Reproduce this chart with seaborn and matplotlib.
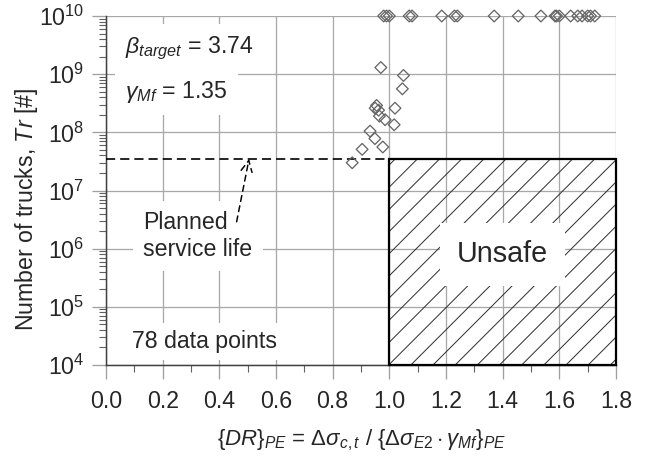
import numpy as np
import matplotlib
matplotlib.use('Agg')
import matplotlib.pyplot as plt
import matplotlib.ticker as mticker
from matplotlib.patches import Rectangle
import seaborn as sns

# failures below the run-out level
dr_failed = [0.970, 1.050, 1.046, 0.955, 0.950, 0.962, 1.020, 0.965, 0.985,
             1.017, 0.932, 0.949, 0.977, 0.904, 0.869]
tr_failed = [1.3e9, 9.5e8, 5.6e8, 2.9e8, 2.6e8, 2.4e8, 2.6e8, 1.9e8, 1.65e8,
             1.35e8, 1.05e8, 7.8e7, 5.6e7, 5.1e7, 3.0e7]

# run-outs plotted at the top of the axis
dr_runout = [0.98, 0.99, 1.00, 1.07, 1.08, 1.185, 1.23, 1.24, 1.37, 1.455,
             1.535, 1.585, 1.59, 1.60, 1.64, 1.665, 1.68, 1.70, 1.71, 1.725]
tr_runout = [1e10] * len(dr_runout)

planned_life = 3.5e7
dr_limit = 1.0
x_max = 1.8
y_min, y_max = 1e4, 1e10

DPI = 133.4
sns.set_theme(style='white')
plt.rcParams['font.family'] = ['Liberation Sans', 'DejaVu Sans']
plt.rcParams['mathtext.fontset'] = 'custom'
plt.rcParams['mathtext.rm'] = 'Liberation Sans'
plt.rcParams['mathtext.it'] = 'Liberation Sans:italic'
plt.rcParams['mathtext.bf'] = 'Liberation Sans:bold'
plt.rcParams['hatch.linewidth'] = 0.55

fig, ax = plt.subplots(figsize=(647 / DPI, 461 / DPI), dpi=DPI)
fig.subplots_adjust(left=106 / 647, right=616 / 647, bottom=1 - 365 / 461, top=1 - 16 / 461)

dr_all = dr_failed + dr_runout
tr_all = tr_failed + tr_runout
sns.scatterplot(x=dr_all, y=tr_all, marker='D', s=20, facecolor='none',
                edgecolor='#666666', linewidth=0.7, ax=ax, clip_on=False, zorder=6)

ax.set_yscale('log')
ax.set_xlim(0, x_max)
ax.set_ylim(y_min, y_max)

ax.xaxis.set_major_locator(mticker.MultipleLocator(0.2))
ax.xaxis.set_minor_locator(mticker.MultipleLocator(0.1))
ax.xaxis.set_major_formatter(mticker.FormatStrFormatter('%.1f'))
ax.yaxis.set_major_locator(mticker.LogLocator(base=10, numticks=20))
ax.yaxis.set_minor_locator(mticker.LogLocator(base=10, subs=np.arange(2, 10), numticks=100))
ax.yaxis.set_minor_formatter(mticker.NullFormatter())

ax.grid(True, which='major', color='#a8a8a8', linewidth=0.7)
ax.set_axisbelow(True)
ax.tick_params(which='major', direction='out', length=7.5, width=0.7,
               color='#a0a0a0', labelsize=12.5, pad=4, left=True, bottom=True)
ax.tick_params(axis='x', which='major', pad=6)
ax.tick_params(which='minor', direction='out', length=4, width=0.6,
               color='#606060', left=True, bottom=True)
for side in ['top', 'right']:
    ax.spines[side].set_visible(False)
for side in ['left', 'bottom']:
    ax.spines[side].set_color('#404040')
    ax.spines[side].set_linewidth(0.8)

ax.set_xlabel(r'$\{DR\}_{PE}$ = $\Delta\sigma_{c,t}$ / $\{\Delta\sigma_{E2}\cdot\gamma_{Mf}\}_{PE}$',
              fontsize=12, labelpad=8)
ax.set_ylabel(r'Number of trucks, $Tr$ [#]', fontsize=12.5)
ax.yaxis.set_label_coords(-0.13, 0.447)

# unsafe region
ax.add_patch(Rectangle((dr_limit, y_min), x_max - dr_limit, planned_life - y_min,
                       facecolor='none', edgecolor='#333333', hatch='//',
                       linewidth=0, zorder=2))
ax.add_patch(Rectangle((dr_limit, y_min), x_max - dr_limit, planned_life - y_min,
                       facecolor='none', edgecolor='black', linewidth=1.2,
                       zorder=5, clip_on=False))
ax.hlines(planned_life, 0, dr_limit, colors='black', linestyles=(0, (5.5, 3)),
          linewidth=0.9, zorder=5)

box = dict(boxstyle='square,pad=0.45', fc='white', ec='none')
ax.text(1.4, 8.0e5, 'Unsafe', fontsize=15.5, ha='center', va='center', zorder=4,
        bbox=dict(boxstyle='square,pad=0.6', fc='white', ec='none'))
ax.text(0.131, 1.66e6, 'Planned\nservice life', fontsize=12.5, ha='left', va='center',
        zorder=4, bbox=box)
ax.text(0.091, 2.5e4, '78 data points', fontsize=12.5, ha='left', va='center',
        zorder=4, bbox=dict(boxstyle='square,pad=0.3', fc='white', ec='none'))
ax.text(0.067, 2.8e9, r'$\beta_{target}$ = 3.74', fontsize=12.5, ha='left', va='center',
        zorder=4, bbox=box)
ax.text(0.067, 5.0e8, r'$\gamma_{Mf}$ = 1.35', fontsize=12.5, ha='left', va='center',
        zorder=4, bbox=box)

ax.annotate('', xy=(0.505, planned_life), xytext=(0.461, 2.9e6),
            arrowprops=dict(arrowstyle='->,head_length=0.5,head_width=0.25',
                            linestyle=(0, (4, 3)), color='black', lw=0.8,
                            shrinkA=0, shrinkB=0, mutation_scale=12),
            zorder=6)

fig.savefig('out.png', dpi=DPI)
